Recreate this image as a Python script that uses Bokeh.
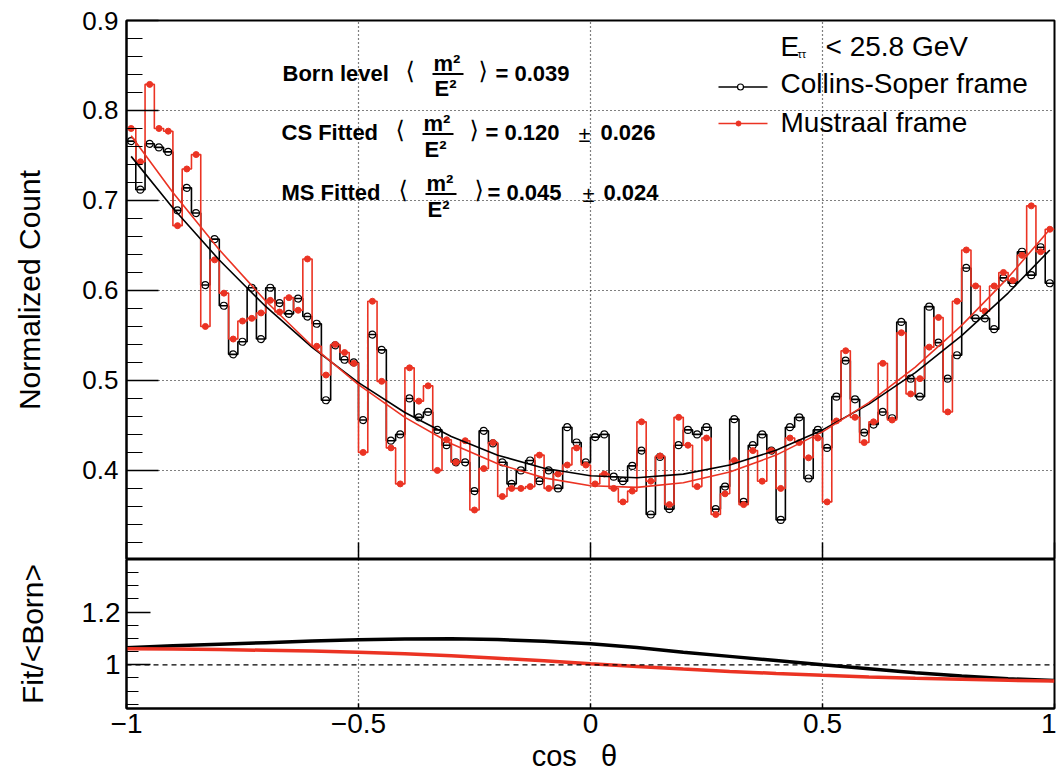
from bokeh.plotting import figure
from bokeh.layouts import column
from bokeh.models import Range1d, FixedTicker, Span, ColumnDataSource, CustomJSTickFormatter
from bokeh.core.properties import value
from bokeh.embed import file_html
from bokeh.resources import INLINE

FONT = "Liberation Sans"
RED = "#eb3323"

# ---------------- data ----------------
x_lo, x_hi, n_bins = -1.0, 1.0, 100

cs_counts = [0.766, 0.712, 0.763, 0.759, 0.754, 0.689, 0.714, 0.686, 0.606, 0.657,
             0.583, 0.529, 0.543, 0.603, 0.546, 0.603, 0.586, 0.574, 0.591, 0.571,
             0.563, 0.478, 0.539, 0.523, 0.520, 0.456, 0.551, 0.534, 0.433, 0.440,
             0.480, 0.459, 0.465, 0.445, 0.428, 0.409, 0.409, 0.377, 0.444, 0.430,
             0.409, 0.385, 0.400, 0.411, 0.388, 0.400, 0.380, 0.448, 0.431, 0.409,
             0.437, 0.440, 0.393, 0.388, 0.405, 0.422, 0.351, 0.415, 0.357, 0.428,
             0.445, 0.440, 0.448, 0.357, 0.382, 0.457, 0.365, 0.428, 0.440, 0.422,
             0.345, 0.448, 0.459, 0.391, 0.445, 0.425, 0.482, 0.522, 0.479, 0.442,
             0.451, 0.465, 0.458, 0.565, 0.502, 0.482, 0.582, 0.542, 0.502, 0.528,
             0.625, 0.569, 0.569, 0.557, 0.614, 0.608, 0.643, 0.617, 0.648, 0.608]

ms_counts = [0.780, 0.743, 0.829, 0.780, 0.777, 0.672, 0.735, 0.751, 0.560, 0.634,
             0.597, 0.546, 0.566, 0.569, 0.575, 0.589, 0.576, 0.592, 0.578, 0.635,
             0.538, 0.506, 0.540, 0.531, 0.519, 0.420, 0.588, 0.499, 0.425, 0.385,
             0.514, 0.477, 0.494, 0.400, 0.434, 0.409, 0.433, 0.356, 0.402, 0.431,
             0.371, 0.380, 0.380, 0.382, 0.417, 0.380, 0.396, 0.406, 0.425, 0.406,
             0.385, 0.396, 0.380, 0.365, 0.377, 0.454, 0.388, 0.416, 0.362, 0.459,
             0.428, 0.382, 0.436, 0.351, 0.374, 0.411, 0.362, 0.422, 0.388, 0.422,
             0.380, 0.436, 0.431, 0.414, 0.436, 0.365, 0.455, 0.533, 0.459, 0.431,
             0.454, 0.519, 0.456, 0.553, 0.485, 0.502, 0.537, 0.570, 0.465, 0.588,
             0.645, 0.605, 0.577, 0.605, 0.620, 0.611, 0.639, 0.694, 0.643, 0.668]

fit_x = [-0.99, -0.9, -0.8, -0.7, -0.6, -0.5, -0.4, -0.3, -0.2, -0.1, 0.0,
         0.1, 0.2, 0.3, 0.4, 0.5, 0.6, 0.7, 0.8, 0.9, 0.99]
cs_fit = [0.749, 0.6916, 0.6338, 0.5822, 0.5367, 0.4975, 0.4644, 0.4376, 0.4169, 0.4024, 0.394,
          0.3919, 0.3959, 0.4061, 0.4224, 0.4450, 0.4737, 0.5087, 0.5498, 0.5971, 0.645]
ms_fit = [0.772, 0.7089, 0.6452, 0.5883, 0.5383, 0.4953, 0.4590, 0.4297, 0.4073, 0.3917, 0.383,
          0.3812, 0.3863, 0.3982, 0.4170, 0.4428, 0.4753, 0.5148, 0.5612, 0.6143, 0.668]

ratio_x = [-1.0, -0.9, -0.8, -0.7, -0.6, -0.5, -0.4, -0.3, -0.2, -0.1, 0.0,
           0.1, 0.2, 0.3, 0.4, 0.5, 0.6, 0.7, 0.8, 0.9, 1.0]
cs_ratio = [1.065, 1.072, 1.078, 1.084, 1.090, 1.095, 1.098, 1.099, 1.096, 1.089, 1.080,
            1.066, 1.048, 1.032, 1.016, 1.000, 0.985, 0.970, 0.957, 0.947, 0.940]
ms_ratio = [1.061, 1.060, 1.058, 1.055, 1.052, 1.048, 1.042, 1.034, 1.025, 1.015, 1.004,
            0.994, 0.984, 0.975, 0.967, 0.960, 0.954, 0.949, 0.945, 0.941, 0.938]
ratio_ref = 1.0

born_val = 0.039
cs_val, cs_err = 0.120, 0.026
ms_val, ms_err = 0.045, 0.024
e_cut = 25.8

x_ticks = [-1.0, -0.5, 0.0, 0.5, 1.0]
x_tick_labels = ["\u22121", "\u22120.5", "0", "0.5", "1"]
x_grid = [-0.5, 0.0, 0.5]
y_ticks_top = [0.4, 0.5, 0.6, 0.7, 0.8, 0.9]
y_grid_top = [0.4, 0.5, 0.6, 0.7, 0.8]
ratio_ticks = [1.0, 1.2]
ratio_tick_labels = ["1", "1.2"]

# ---------------- geometry ----------------
bw = (x_hi - x_lo) / n_bins
edges = [x_lo + i * bw for i in range(n_bins + 1)]
centers = [x_lo + (i + 0.5) * bw for i in range(n_bins)]

Y0, Y1 = 0.301, 0.9
FL, FW, FT, FH = 126.0, 928.0, 20.0, 539.0   # px of the top frame


def px_x(px):
    return x_lo + (px - FL) * (x_hi - x_lo) / FW


def py_y(py):
    return Y1 - (py - FT) * (Y1 - Y0) / FH


xr = Range1d(x_lo, x_hi)

top = figure(frame_width=928, frame_height=539, x_range=xr, y_range=Range1d(Y0, Y1),
             output_backend="svg", toolbar_location=None, tools="",
             min_border_left=126, min_border_right=2, min_border_top=20, min_border_bottom=0)
bot = figure(frame_width=928, frame_height=149, x_range=xr, y_range=Range1d(0.834, 1.400),
             output_backend="svg", toolbar_location=None, tools="",
             min_border_left=126, min_border_right=2, min_border_top=0, min_border_bottom=40)

for f in (top, bot):
    f.outline_line_color = "black"
    f.outline_line_width = 2
    f.background_fill_color = "white"
    f.border_fill_color = "white"
    for ax in (f.xaxis[0], f.yaxis[0]):
        ax.axis_line_width = 2
        ax.axis_line_color = "black"
        ax.major_tick_line_color = "black"
        ax.minor_tick_line_color = "black"
        ax.major_tick_line_width = 1.5
        ax.minor_tick_line_width = 1.2
        ax.major_tick_out = 0
        ax.minor_tick_out = 0
        ax.major_label_text_font = FONT
        ax.axis_label_text_font = FONT
        ax.axis_label_text_font_style = "normal"
        ax.major_label_text_color = "black"
        ax.axis_label_text_color = "black"
    f.xgrid.ticker = FixedTicker(ticks=x_grid)
    f.xgrid.grid_line_color = "black"
    f.xgrid.grid_line_dash = "1 3"
    f.xgrid.grid_line_width = 1.2

tick_fmt_x = CustomJSTickFormatter(args=dict(vals=x_ticks, labs=x_tick_labels),
    code="const i = vals.findIndex(v => Math.abs(v - tick) < 1e-9); return i >= 0 ? labs[i] : '';")
tick_fmt_r = CustomJSTickFormatter(args=dict(vals=ratio_ticks, labs=ratio_tick_labels),
    code="const i = vals.findIndex(v => Math.abs(v - tick) < 1e-9); return i >= 0 ? labs[i] : '';")

# top axes
ya = top.yaxis[0]
ya.ticker = FixedTicker(ticks=y_ticks_top, minor_ticks=[round(0.3 + 0.02 * k, 2) for k in range(1, 30)])
ya.major_tick_in = 32
ya.minor_tick_in = 16
ya.major_label_standoff = 8
ya.major_label_text_font_size = "26px"
ya.axis_label = "Normalized Count"
ya.axis_label_text_font_size = "30px"
ya.axis_label_standoff = 33

xa = top.xaxis[0]
xa.ticker = FixedTicker(ticks=x_ticks, minor_ticks=[])
xa.major_tick_in = 17
xa.major_label_text_font_size = "0px"
xa.major_label_text_alpha = 0
xa.major_label_standoff = 0

top.ygrid.ticker = FixedTicker(ticks=y_grid_top)
top.ygrid.grid_line_color = "black"
top.ygrid.grid_line_dash = "1 3"
top.ygrid.grid_line_width = 1.2

# bottom axes
yb = bot.yaxis[0]
yb.ticker = FixedTicker(ticks=ratio_ticks, minor_ticks=[round(0.85 + 0.05 * k, 2) for k in range(11)])
yb.formatter = tick_fmt_r
yb.major_tick_in = 24
yb.minor_tick_in = 12
yb.major_label_standoff = 6
yb.major_label_text_font_size = "28px"
yb.axis_label = "Fit/<Born>"
yb.axis_label_text_font_size = "30px"
yb.axis_label_standoff = 30

xb = bot.xaxis[0]
xb.ticker = FixedTicker(ticks=x_ticks, minor_ticks=[])
xb.formatter = tick_fmt_x
xb.major_tick_in = 5
xb.major_label_standoff = 5
xb.major_label_text_font_size = "28px"
xb.axis_label = "cos\u00a0\u00a0\u00a0\u03b8\u00a0\u00a0\u00a0\u00a0"
xb.axis_label_text_font_size = "29px"
xb.axis_label_standoff = 4
bot.ygrid.visible = False

# ---------------- top panel marks ----------------
top.step(x=edges, y=cs_counts + [cs_counts[-1]], mode="after", line_color="black", line_width=1.6)
top.scatter(x=centers, y=cs_counts, marker="circle", size=7, fill_color=None,
            line_color="black", line_width=1.2)
top.step(x=edges, y=ms_counts + [ms_counts[-1]], mode="after", line_color=RED, line_width=1.6)
top.scatter(x=centers, y=ms_counts, marker="circle", size=6, fill_color=RED, line_color=RED)
top.line(x=fit_x, y=cs_fit, line_color="black", line_width=1.6)
top.line(x=fit_x, y=ms_fit, line_color=RED, line_width=1.6)

BASE_CORR = 0.37   # baseline correction (fraction of font size) for alphabetic text


def add_text(fig, items, size, style="normal", baseline="alphabetic", font=FONT, corr=BASE_CORR):
    fs = float(size.replace("px", ""))
    src = ColumnDataSource(dict(x=[px_x(a) for a, _, _ in items],
                                y=[py_y(b - corr * fs) for _, b, _ in items],
                                t=[c for _, _, c in items]))
    fig.text(x="x", y="y", text="t", source=src, text_font=value(font),
             text_font_size=size, text_font_style=style, text_baseline=baseline,
             text_align="left", text_color="black")


# annotation block
add_text(top, [(282, 80.7, "Born level"), (281, 140, "CS Fitted"), (281, 200, "MS Fitted"),
               (495, 80.7, "= %.3f" % born_val), (485, 140, "= %.3f" % cs_val),
               (487, 200, "= %.3f" % ms_val), (600, 140, "%.3f" % cs_err),
               (603, 200, "%.3f" % ms_err)], "22px", style="bold")
add_text(top, [(433, 71.5, "m\u00b2"), (423, 131.5, "m\u00b2"), (426, 191.5, "m\u00b2"),
               (434, 96.5, "E\u00b2"), (424, 157, "E\u00b2"), (427, 217, "E\u00b2")],
         "22px", style="bold")
add_text(top, [(405, 74, "\u27e8"), (478, 74, "\u27e9"), (395, 133, "\u27e8"),
               (469, 133, "\u27e9"), (398, 193, "\u27e8"), (474, 193, "\u27e9")],
         "24px", baseline="middle", font="DejaVu Sans", corr=0.15)
add_text(top, [(578, 142, "\u00b1"), (582, 202, "\u00b1")], "22px")
top.segment(x0=[px_x(432), px_x(422), px_x(425)], x1=[px_x(463), px_x(453), px_x(456)],
            y0=[py_y(73.5), py_y(133.5), py_y(193.5)], y1=[py_y(73.5), py_y(133.5), py_y(193.5)],
            line_color="black", line_width=2)

# legend
add_text(top, [(780, 56, "E"), (825, 56, "< %.1f GeV" % e_cut),
               (780, 93, "Collins-Soper frame"), (780, 132, "Mustraal frame")], "28px")
add_text(top, [(797, 58, "\u03c4\u03c4")], "11px")
top.line(x=[px_x(718), px_x(767)], y=[py_y(86.5)] * 2, line_color="black", line_width=1.5)
top.scatter(x=[px_x(740)], y=[py_y(86.5)], marker="circle", size=6, fill_color="white",
            line_color="black", line_width=1.2)
top.line(x=[px_x(718), px_x(767)], y=[py_y(123)] * 2, line_color=RED, line_width=1.5)
top.scatter(x=[px_x(738)], y=[py_y(123)], marker="circle", size=5, fill_color=RED, line_color=RED)

# ---------------- ratio panel ----------------
bot.add_layout(Span(location=ratio_ref, dimension="width", line_color="black",
                    line_dash="5 4", line_width=1.2))
bot.line(x=ratio_x, y=cs_ratio, line_color="black", line_width=3.5)
bot.line(x=ratio_x, y=ms_ratio, line_color=RED, line_width=3.5)

layout = column(top, bot, spacing=0)
open("out.html", "w").write(file_html(layout, INLINE))
